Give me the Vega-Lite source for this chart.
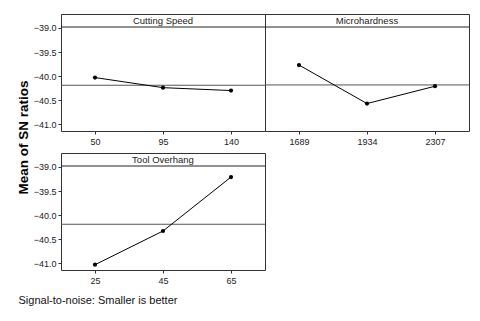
{
  "$schema": "https://vega.github.io/schema/vega-lite/v6.json",
  "padding": {"left": 16, "top": 13, "right": 13, "bottom": 5},
  "background": "white",
  "title": {"text": "Mean of SN ratios", "orient": "left", "anchor": "middle", "fontSize": 13.5, "fontWeight": "bold", "font": "Liberation Sans", "offset": -13, "dx": 22, "color": "#000"},
  "datasets": {
    "sn": [
      {"factor": "Cutting Speed", "level": 50, "sn": -40.03},
      {"factor": "Cutting Speed", "level": 95, "sn": -40.24},
      {"factor": "Cutting Speed", "level": 140, "sn": -40.30},
      {"factor": "Microhardness", "level": 1689, "sn": -39.77},
      {"factor": "Microhardness", "level": 1934, "sn": -40.57},
      {"factor": "Microhardness", "level": 2307, "sn": -40.21},
      {"factor": "Tool Overhang", "level": 25, "sn": -41.03},
      {"factor": "Tool Overhang", "level": 45, "sn": -40.33},
      {"factor": "Tool Overhang", "level": 65, "sn": -39.21}
    ],
    "headers": [
      {"factor": "Cutting Speed", "top": -38.98, "mid": -38.845},
      {"factor": "Microhardness", "top": -38.98, "mid": -38.845},
      {"factor": "Tool Overhang", "top": -38.98, "mid": -38.845}
    ]
  },
  "config": {
    "view": {"stroke": "#333", "strokeWidth": 1},
    "axis": {"labelFont": "Liberation Sans", "labelFontSize": 9, "labelColor": "#222", "tickColor": "#333", "tickSize": 3, "domain": false, "grid": false, "titleFont": "Liberation Sans"},
    "axisY": {"values": [-41, -40.5, -40, -39.5, -39], "format": ".1f", "labelPadding": 2, "title": null},
    "text": {"font": "Liberation Sans", "fontSize": 9.5, "color": "#222"}
  },
  "spacing": 5,
  "vconcat": [
    {
      "spacing": 0,
      "bounds": "flush",
      "hconcat": [
        {"width": 204, "height": 117,
          "layer": [
            {"data": {"name": "headers"}, "transform": [{"filter": "datum.factor == 'Cutting Speed'"}], "mark": {"type": "rule", "color": "#222", "strokeWidth": 1}, "encoding": {"y": {"field": "top", "type": "quantitative", "scale": {"domain": [-41.14, -38.71], "nice": false, "zero": false}, "axis": {"title": null, "values": [-41, -40.5, -40, -39.5, -39], "format": ".1f"}}}},
            {"data": {"name": "headers"}, "transform": [{"filter": "datum.factor == 'Cutting Speed'"}], "mark": {"type": "text", "baseline": "middle"}, "encoding": {"text": {"field": "factor"}, "y": {"field": "mid", "type": "quantitative", "axis": {"title": null, "values": [-41, -40.5, -40, -39.5, -39], "format": ".1f"}}}},
            {"data": {"name": "sn"}, "transform": [{"filter": "datum.factor == 'Cutting Speed'"}], "mark": {"type": "rule", "color": "#555", "strokeWidth": 1}, "encoding": {"y": {"aggregate": "mean", "field": "sn", "type": "quantitative", "axis": {"title": null, "values": [-41, -40.5, -40, -39.5, -39], "format": ".1f"}}}},
            {"data": {"name": "sn"}, "transform": [{"filter": "datum.factor == 'Cutting Speed'"}], "mark": {"type": "line", "color": "black", "strokeWidth": 1, "point": {"filled": true, "color": "black", "size": 18}},
              "encoding": {
                "x": {"field": "level", "type": "ordinal", "sort": "ascending", "scale": {"type": "point", "padding": 0.5}, "axis": {"title": null, "labelAngle": 0, "labelPadding": 3}},
                "y": {"field": "sn", "type": "quantitative", "axis": {"title": null, "values": [-41, -40.5, -40, -39.5, -39], "format": ".1f"}}
              }}
          ]},
        {"width": 204, "height": 117,
          "layer": [
            {"data": {"name": "headers"}, "transform": [{"filter": "datum.factor == 'Microhardness'"}], "mark": {"type": "rule", "color": "#222", "strokeWidth": 1}, "encoding": {"y": {"field": "top", "type": "quantitative", "scale": {"domain": [-41.14, -38.71], "nice": false, "zero": false}, "axis": null}}},
            {"data": {"name": "headers"}, "transform": [{"filter": "datum.factor == 'Microhardness'"}], "mark": {"type": "text", "baseline": "middle"}, "encoding": {"text": {"field": "factor"}, "y": {"field": "mid", "type": "quantitative", "axis": null}}},
            {"data": {"name": "sn"}, "transform": [{"filter": "datum.factor == 'Microhardness'"}], "mark": {"type": "rule", "color": "#555", "strokeWidth": 1}, "encoding": {"y": {"aggregate": "mean", "field": "sn", "type": "quantitative", "axis": null}}},
            {"data": {"name": "sn"}, "transform": [{"filter": "datum.factor == 'Microhardness'"}], "mark": {"type": "line", "color": "black", "strokeWidth": 1, "point": {"filled": true, "color": "black", "size": 18}},
              "encoding": {
                "x": {"field": "level", "type": "ordinal", "sort": "ascending", "scale": {"type": "point", "padding": 0.5}, "axis": {"title": null, "labelAngle": 0, "labelPadding": 3}},
                "y": {"field": "sn", "type": "quantitative", "axis": null}
              }}
          ]}
      ]
    },
    {"width": 204, "height": 117,
      "layer": [
        {"data": {"name": "headers"}, "transform": [{"filter": "datum.factor == 'Tool Overhang'"}], "mark": {"type": "rule", "color": "#222", "strokeWidth": 1}, "encoding": {"y": {"field": "top", "type": "quantitative", "scale": {"domain": [-41.14, -38.71], "nice": false, "zero": false}, "axis": {"title": null, "values": [-41, -40.5, -40, -39.5, -39], "format": ".1f"}}}},
        {"data": {"name": "headers"}, "transform": [{"filter": "datum.factor == 'Tool Overhang'"}], "mark": {"type": "text", "baseline": "middle"}, "encoding": {"text": {"field": "factor"}, "y": {"field": "mid", "type": "quantitative", "axis": {"title": null, "values": [-41, -40.5, -40, -39.5, -39], "format": ".1f"}}}},
        {"data": {"name": "sn"}, "transform": [{"filter": "datum.factor == 'Tool Overhang'"}], "mark": {"type": "rule", "color": "#555", "strokeWidth": 1}, "encoding": {"y": {"aggregate": "mean", "field": "sn", "type": "quantitative", "axis": {"title": null, "values": [-41, -40.5, -40, -39.5, -39], "format": ".1f"}}}},
        {"data": {"name": "sn"}, "transform": [{"filter": "datum.factor == 'Tool Overhang'"}], "mark": {"type": "line", "color": "black", "strokeWidth": 1, "point": {"filled": true, "color": "black", "size": 18}},
          "encoding": {
            "x": {"field": "level", "type": "ordinal", "sort": "ascending", "scale": {"type": "point", "padding": 0.5}, "axis": {"title": "Signal-to-noise: Smaller is better", "titleAnchor": "start", "titleAlign": "left", "titleX": -43, "titlePadding": 9, "titleFontSize": 11, "titleFontWeight": "normal", "titleColor": "#111", "labelAngle": 0, "labelPadding": 3}},
            "y": {"field": "sn", "type": "quantitative", "axis": {"title": null, "values": [-41, -40.5, -40, -39.5, -39], "format": ".1f"}}
          }}
      ]}
  ]
}
